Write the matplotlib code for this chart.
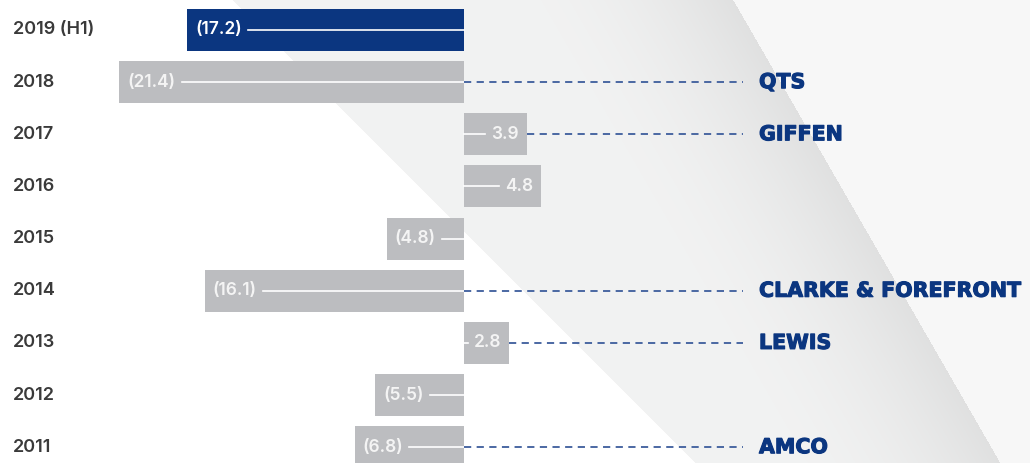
import numpy as np
import matplotlib
matplotlib.use("Agg")
import matplotlib.pyplot as plt
import matplotlib.patheffects as pe

years = ["2019 (H1)", "2018", "2017", "2016", "2015", "2014", "2013", "2012", "2011"]
values = [-17.2, -21.4, 3.9, 4.8, -4.8, -16.1, 2.8, -5.5, -6.8]
value_labels = ["(17.2)", "(21.4)", "3.9", "4.8", "(4.8)", "(16.1)", "2.8", "(5.5)", "(6.8)"]
companies = ["", "QTS", "GIFFEN", "", "", "CLARKE & FOREFRONT", "LEWIS", "", "AMCO"]

W, H = 1030, 463
fig = plt.figure(figsize=(W / 100, H / 100), dpi=100)
ax = fig.add_axes([0, 0, 1, 1])

# pixel-based geometry of the axes
zero_px = 464.0
ppu = 16.1
row0 = 30.0
rowstep = 52.15
ax.set_xlim(-zero_px / ppu, (W - zero_px) / ppu)
ax.set_ylim((H - row0) / rowstep, -row0 / rowstep)
ax.axis("off")

# background decoration (diagonal light bands)
yy, xx = np.mgrid[0:H, 0:W].astype(float)
img = np.ones((H, W)) * 255.0
left_edge = 233 + yy
right_edge = 733 + 0.577 * yy
band = (xx >= left_edge) & (xx < right_edge)
d = (right_edge - xx) * np.cos(np.arctan(0.577))
img[band] = 242 - 18 * np.clip(1 - d[band] / 200, 0, 1) ** 2
img[xx >= right_edge] = 247
rgb = np.dstack([img, img + 0.5, img + 0.5]).clip(0, 255) / 255.0
ax.imshow(rgb, extent=[ax.get_xlim()[0], ax.get_xlim()[1], ax.get_ylim()[0], ax.get_ylim()[1]],
          aspect="auto", zorder=0, interpolation="bilinear")

navy = "#0b3680"
gray = "#bcbdc0"
dash_col = "#3d5d9c"
y = np.arange(len(years))
colors = [navy] + [gray] * (len(years) - 1)
ax.barh(y, values, height=42 / rowstep, color=colors, zorder=2)

fig.canvas.draw()
renderer = fig.canvas.get_renderer()
pad = 8 / ppu
dash_end = (743 - zero_px) / ppu
comp_x = (759 - zero_px) / ppu
for i, (v, lab, comp) in enumerate(zip(values, value_labels, companies)):
    tcol = "white" if i == 0 else "#f4f4f4"
    if v < 0:
        t = ax.text(v + pad, i, lab, ha="left", va="center", color=tcol,
                    fontsize=12.5, fontweight="semibold", family="Inter", zorder=4)
        bb = t.get_window_extent(renderer=renderer)
        x_end_text = ax.transData.inverted().transform((bb.x1, 0))[0]
        ax.plot([x_end_text + 6 / ppu, 0], [i, i], color="white", lw=1.2, zorder=3)
    else:
        t = ax.text(v - pad, i, lab, ha="right", va="center", color=tcol,
                    fontsize=12.5, fontweight="semibold", family="Inter", zorder=4)
        bb = t.get_window_extent(renderer=renderer)
        x_start_text = ax.transData.inverted().transform((bb.x0, 0))[0]
        ax.plot([0, x_start_text - 6 / ppu], [i, i], color="white", lw=1.2, zorder=3)
    if comp:
        ax.plot([max(v, 0), dash_end], [i, i], color=dash_col, lw=1.3,
                linestyle=(0, (4, 3)), zorder=3)
        ax.text(comp_x, i, comp, ha="left", va="center", color=navy,
                fontsize=14.8, fontweight="bold", family="DejaVu Sans", zorder=4,
                path_effects=[pe.withStroke(linewidth=0.8, foreground=navy)])
    ax.text(13 / W, i, years[i], transform=ax.get_yaxis_transform(), ha="left",
            va="center", color="#3a3a3a", fontsize=13, fontweight="semibold",
            family="Inter", zorder=4)

fig.savefig("out.png", dpi=100)
